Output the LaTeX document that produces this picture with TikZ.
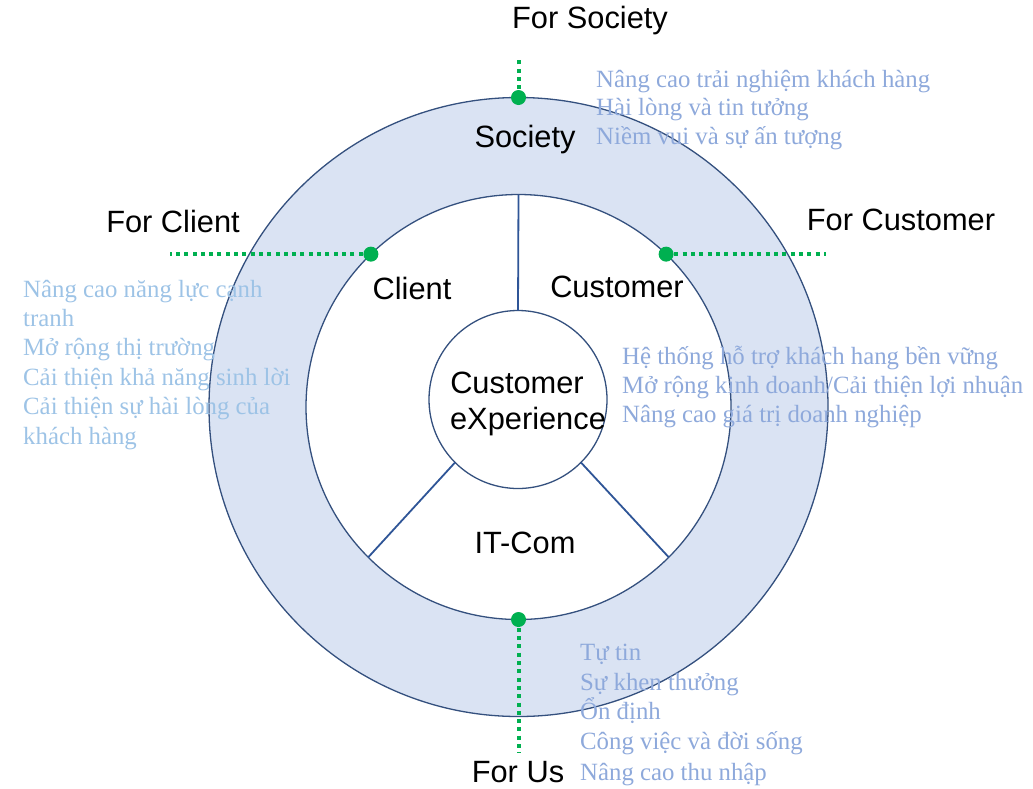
\documentclass[tikz,border=0pt]{standalone}
\usepackage{fontspec}
\setmainfont{Liberation Serif}
\newfontfamily\labelfont{Liberation Sans}
\usetikzlibrary{calc}
\definecolor{ringfill}{HTML}{DAE3F3}
\definecolor{ringline}{HTML}{34507E}
\definecolor{spokeblue}{HTML}{2F5597}
\definecolor{dotgreen}{HTML}{00B050}
\definecolor{txtblue}{HTML}{8EA9DB}
\definecolor{skyblue}{HTML}{9DC3E6}
\begin{document}
\begin{tikzpicture}[x=1pt,y=-1pt,
  lbl/.style={font=\labelfont\fontsize{30.8}{36}\selectfont, text=black, anchor=base, inner sep=0pt},
  btxt/.style={font=\fontsize{24.8}{29}\selectfont, text=txtblue, anchor=base west, inner sep=0pt},
  stxt/.style={btxt, text=skyblue},
  ring/.style={circle, draw=ringline, line width=1.3pt, inner sep=0pt, outer sep=0pt},
  spoke/.style={draw=spokeblue, line width=1.8pt},
  gdot/.style={circle, fill=dotgreen, minimum size=15pt, inner sep=0pt},
  gline/.style={draw=dotgreen, line width=4pt, dash pattern=on 4pt off 4.3pt}
]
\useasboundingbox (0,0) rectangle (1033,788);
% circles
\node[ring, fill=ringfill, minimum size=619pt] (outer) at (518.5,407) {};
\node[ring, fill=white, minimum size=425pt] (inner) at (518.5,407) {};
\node[ring, fill=white, minimum size=178pt] (core) at (518,399.5) {};
% spokes
\draw[spoke] (inner.90) -- (core.90);
\draw[spoke] (core.225) -- (inner.225);
\draw[spoke] (core.315) -- (inner.315);
% sector labels
\node[lbl] (soc) at (525,147) {Society};
\node[lbl] (cli) at (412,299) {Client};
\node[lbl] (cus) at (617,297) {Customer};
\node[lbl] (itc) at (525,553) {IT-Com};
\node[lbl] (cx1) at (517,393) {Customer};
\node[lbl] (cx2) at (528,429) {eXperience};
% outer labels
\node[lbl] (fsoc) at (590,28) {For Society};
\node[lbl] (fcli) at (173,232) {For Client};
\node[lbl] (fcus) at (901,230) {For Customer};
\node[lbl] (fus) at (518,782) {For Us};
% green dots
\node[gdot] (dtop) at (outer.90) {};
\node[gdot] (dleft) at (inner.134.5) {};
\node[gdot] (dright) at (inner.46) {};
\node[gdot] (dbot) at (inner.270) {};
\coordinate (etop) at ($(dtop)+(0,-38)$);
\coordinate (eleft) at ($(dleft)+(-201,0)$);
\coordinate (eright) at ($(dright)+(160,0)$);
\coordinate (ebot) at ($(dbot)+(0,133)$);
\draw[gline] (dtop.center) -- (etop);
\draw[gline] (dleft.center) -- (eleft);
\draw[gline] (dright.center) -- (eright);
\draw[gline] (dbot.center) -- (ebot);
% society text
\node[btxt] (s1) at (596,87) {Nâng cao trải nghiệm khách hàng};
\node[btxt] (s2) at (596,115.5) {Hài lòng và tin tưởng};
\node[btxt] (s3) at (596,144) {Niềm vui và sự ấn tượng};
% client text
\node[stxt] (c1) at (23,297) {Nâng cao năng lực cạnh};
\node[stxt] (c2) at (23,326) {tranh};
\node[stxt] (c3) at (23,355) {Mở rộng thị trường};
\node[stxt] (c4) at (23,385) {Cải thiện khả năng sinh lời};
\node[stxt] (c5) at (23,414.5) {Cải thiện sự hài lòng của};
\node[stxt] (c6) at (23,444) {khách hàng};
% customer text
\node[btxt] (u1) at (622,364) {Hệ thống hỗ trợ khách hang bền vững};
\node[btxt] (u2) at (622,393) {Mở rộng kinh doanh/Cải thiện lợi nhuận};
\node[btxt] (u3) at (622,422) {Nâng cao giá trị doanh nghiệp};
% us text
\node[btxt] (o1) at (580,660) {Tự tin};
\node[btxt] (o2) at (580,690) {Sự khen thưởng};
\node[btxt] (o3) at (580,719.5) {Ổn định};
\node[btxt] (o4) at (580,749.5) {Công việc và đời sống};
\node[btxt] (o5) at (580,780) {Nâng cao thu nhập};
\end{tikzpicture}
\end{document}
